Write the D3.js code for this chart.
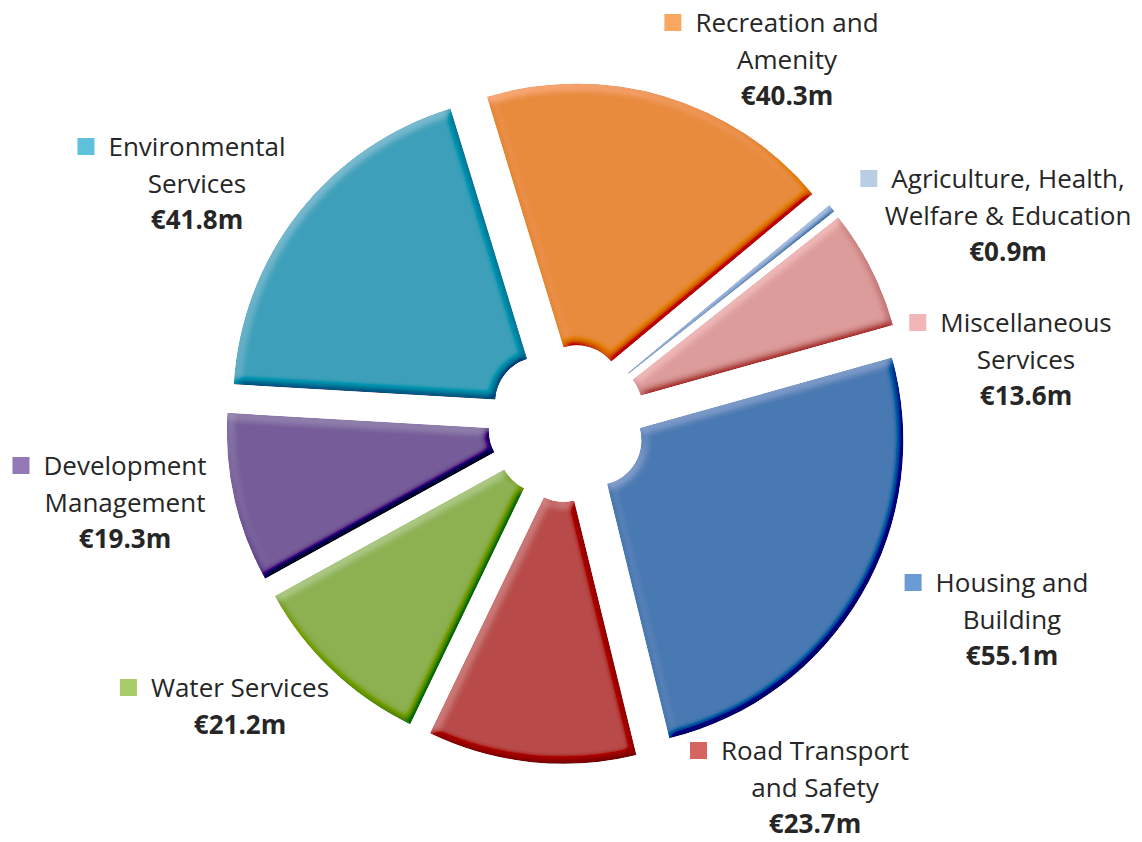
<!DOCTYPE html>
<html>
<head>
<meta charset="utf-8">
<script src="https://cdn.jsdelivr.net/npm/d3@7"></script>
<style>
  body { margin: 0; background: #fff; }
  text { font-family: "Open Sans", sans-serif; fill: #262626; }
</style>
</head>
<body>
<div id="chart"></div>
<script>
// data, clockwise from the top
var categories = ["Recreation and Amenity", "Agriculture, Health, Welfare & Education",
    "Miscellaneous Services", "Housing and Building", "Road Transport and Safety",
    "Water Services", "Development Management", "Environmental Services"];
var labelLines = [["Recreation and", "Amenity"], ["Agriculture, Health,", "Welfare & Education"],
    ["Miscellaneous", "Services"], ["Housing and", "Building"], ["Road Transport", "and Safety"],
    ["Water Services"], ["Development", "Management"], ["Environmental", "Services"]];
var values = [40.3, 0.9, 13.6, 55.1, 23.7, 21.2, 19.3, 41.8];

var sliceColors = ["#e88b3e", "#8ea9d0", "#dc9c9b", "#4a79b2", "#b84c4a", "#8db051", "#765e99", "#3ea0b9"];
var keyColors = ["#f9a862", "#b9cde5", "#f2b6b6", "#6a9bd4", "#d66562", "#a8cc6a", "#9479b7", "#5ec1dc"];

// where each label sits: centre of the text block, baseline of first line
var labelPos = [[787, 32], [1008, 188], [1026, 332], [1012, 592], [815, 760], [240, 697], [125, 475], [197, 156]];

var width = 1142, height = 842;
var cx = 567, cy = 423;
var outerR = 307, innerR = 45, explode = 34;
var lineH = 36.5;

svg = d3.select("#chart")
    .append("svg")
    .attr("width", width)
    .attr("height", height);

// bevel look for the slices
var defs = svg.append("defs");
var elev = 50;
var f = defs.append("filter").attr("id", "bevel")
    .attr("x", "-10%").attr("y", "-10%").attr("width", "120%").attr("height", "120%");
f.append("feGaussianBlur").attr("in", "SourceAlpha").attr("stdDeviation", 4).attr("result", "blur");
f.append("feDiffuseLighting").attr("in", "blur").attr("surfaceScale", 4)
    .attr("diffuseConstant", 1).attr("lighting-color", "#fff").attr("result", "diff")
    .append("feDistantLight").attr("azimuth", 235).attr("elevation", elev);
f.append("feComposite").attr("in", "SourceGraphic").attr("in2", "diff")
    .attr("operator", "arithmetic").attr("k1", 0).attr("k2", 1).attr("k3", 0.6)
    .attr("k4", -0.6 * Math.sin(elev * Math.PI / 180)).attr("result", "lit");
f.append("feComposite").attr("in", "lit").attr("in2", "SourceAlpha").attr("operator", "in");

var start = -17 * Math.PI / 180;
var pie = d3.pie().sort(null).startAngle(start).endAngle(start + 2 * Math.PI);
var arcs = pie(values);

var arc = d3.arc().innerRadius(innerR).outerRadius(outerR);

var g = svg.append("g").attr("transform", "translate(" + cx + "," + cy + ")");

g.selectAll("path")
    .data(arcs)
    .enter()
    .append("path")
    .attr("d", arc)
    .attr("fill", function (d, i) { return sliceColors[i]; })
    .attr("filter", "url(#bevel)")
    .attr("transform", function (d) {
        var mid = (d.startAngle + d.endAngle) / 2;
        return "translate(" + (explode * Math.sin(mid)) + "," + (-explode * Math.cos(mid)) + ")";
    });

// labels
var labels = svg.selectAll(".label")
    .data(arcs)
    .enter()
    .append("g")
    .attr("class", "label")
    .attr("transform", function (d, i) { return "translate(" + labelPos[i][0] + "," + labelPos[i][1] + ")"; });

labels.each(function (d, i) {
    var lg = d3.select(this);
    var lines = labelLines[i];
    lines.forEach(function (t, j) {
        lg.append("text")
            .attr("x", 0)
            .attr("y", j * lineH)
            .attr("text-anchor", "middle")
            .style("font-size", "26px")
            .text(t);
    });
    lg.append("text")
        .attr("x", 0)
        .attr("y", lines.length * lineH)
        .attr("text-anchor", "middle")
        .style("font-size", "26px")
        .style("font-weight", "bold")
        .text("€" + d.value.toFixed(1) + "m");
    var w = lg.select("text").node().getComputedTextLength();
    lg.append("rect")
        .attr("x", -w / 2 - 14 - 17)
        .attr("y", -18)
        .attr("width", 17)
        .attr("height", 17)
        .attr("fill", keyColors[i]);
});
</script>
</body>
</html>
